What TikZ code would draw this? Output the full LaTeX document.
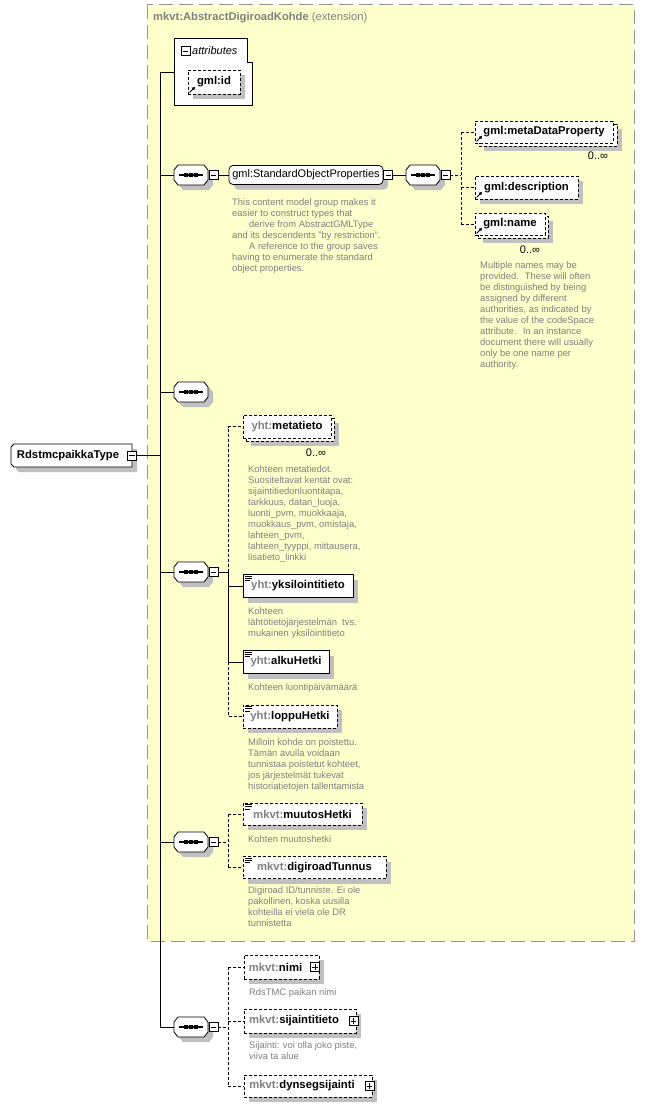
\documentclass[tikz,border=0pt]{standalone}
\usepackage{fontspec}
\setmainfont{Liberation Sans}
\usetikzlibrary{shadows,arrows.meta}
\definecolor{bgyel}{RGB}{255,255,204}
\definecolor{pfx}{RGB}{128,128,128}
\definecolor{desc}{RGB}{128,128,128}
\definecolor{shad}{RGB}{192,192,192}
\definecolor{frame}{RGB}{150,150,150}
\newcommand\pf[1]{\textcolor{pfx}{#1}}
\newcommand\seqshape[1]{%
  \fill[shad] ([shift={(5,5)}]#1.center) ++(-13,-10) -- ++(26,0) -- ++(4,5) -- ++(0,10) -- ++(-4,5) -- ++(-26,0) -- ++(-4,-5) -- ++(0,-10) -- cycle;
  \draw[line width=0.8pt,fill=white] (#1.center) ++(-13,-10) -- ++(26,0) -- ++(4,5) -- ++(0,10) -- ++(-4,5) -- ++(-26,0) -- ++(-4,-5) -- ++(0,-10) -- cycle;
  \draw[line width=1.1pt] ([xshift=-12pt]#1.center) -- ([xshift=12pt]#1.center);
  \fill ([xshift=-5pt]#1.center) +(-1.6,-1.6) rectangle +(1.6,1.6);
  \fill (#1.center) +(-1.6,-1.6) rectangle +(1.6,1.6);
  \fill ([xshift=5pt]#1.center) +(-1.6,-1.6) rectangle +(1.6,1.6);}
\newcommand\refic[1]{\draw[line width=1pt,-{Triangle[length=3pt,width=3.2pt]}] ([shift={(2,-2)}]#1.south west) -- ++(5.5,-5.5);}
\newcommand\conic[1]{\draw[line width=0.7pt] ([shift={(2,2)}]#1.north west) -- ++(7,0) ([shift={(2,4.2)}]#1.north west) -- ++(7,0) ([shift={(2,6.4)}]#1.north west) -- ++(5,0);}
\begin{document}
\begin{tikzpicture}[x=1pt,y=-1pt,
  shd/.style={drop shadow={shadow xshift=5pt,shadow yshift=-5pt,fill=shad,opacity=1}},
  box/.style={draw=black,fill=white,line width=0.8pt,inner sep=0pt,minimum height=23pt,font=\fontsize{11.3}{13}\selectfont\bfseries},
  elem/.style={box,shd},
  opt/.style={dash pattern=on 3pt off 2pt},
  conn/.style={line width=0.8pt},
  dconn/.style={line width=0.8pt,dash pattern=on 3pt off 2pt},
  note/.style={anchor=north west,inner sep=0pt,align=left,text=desc,font=\fontsize{9.4}{11}\selectfont},
  mult/.style={inner sep=0pt,font=\fontsize{11}{13}\selectfont},
  seqn/.style={minimum width=34pt,minimum height=20pt,inner sep=0pt},
  smallbox/.style={draw,fill=white,line width=0.6pt,minimum size=9pt,inner sep=0pt},
  minusbox/.style={smallbox,path picture={\draw[line width=0.6pt] ([xshift=1.8pt]path picture bounding box.west) -- ([xshift=-1.8pt]path picture bounding box.east);}},
  plusbox/.style={smallbox,path picture={\draw[line width=0.6pt] ([xshift=1.8pt]path picture bounding box.west) -- ([xshift=-1.8pt]path picture bounding box.east) ([yshift=-1.8pt]path picture bounding box.north) -- ([yshift=1.8pt]path picture bounding box.south);}},
]
\useasboundingbox (0,0) rectangle (645,1108);
\fill[white] (0,0) rectangle (645,1108);
% extension frame
\draw[draw=frame,fill=bgyel,line width=1pt,dash pattern=on 14pt off 6pt] (147,5) rectangle (634,941);
\node[anchor=west,inner sep=0pt,text=pfx,font=\fontsize{11.2}{13}\selectfont] (title) at (153,18) {\textbf{mkvt:AbstractDigiroadKohde} (extension)};

% spine
\coordinate (sp1) at (160,72);
\coordinate (sp2) at (160,1027);
\draw[conn] (sp1) -- (sp2);

% attributes
\node[minimum width=78pt,minimum height=67pt,inner sep=0pt,anchor=north west] (attr) at (174,38) {};
\draw[line width=0.8pt,fill=white] (174,38) -- (247,38) -- (247,62) -- (252,62) -- (252,105) -- (174,105) -- cycle;
\node[minusbox] (attrm) at (185.5,51) {};
\node[anchor=west,inner sep=0pt,font=\fontsize{11}{13}\selectfont\itshape] (attrl) at (192,50.5) {attributes};
\node[elem,opt,minimum width=52pt,minimum height=24pt] (gmlid) at (214,82) {gml:id};
\refic{gmlid}
\draw[conn] (sp1) -- (attr.west |- sp1);

% root type
\fill[shad] (19,449) -- (137,449) -- (137,472) -- (19,472) -- (16,469) -- (16,452) -- cycle;
\draw[line width=0.8pt,fill=white] (14,444) -- (132,444) -- (132,467) -- (14,467) -- (11,464) -- (11,447) -- cycle;
\node[inner sep=0pt,minimum width=116pt,minimum height=23pt,font=\fontsize{11.3}{13}\selectfont\bfseries] (rdst) at (68,455.5) {RdstmcpaikkaType};
\node[minusbox] (rdm) at (132,455.5) {};
\draw[conn] (rdm.east) -- (rdm.east -| sp1);

% seq 1 : StandardObjectProperties
\node[seqn] (s1) at (191,175) {};
\seqshape{s1}
\node[minusbox,anchor=west] (s1m) at ([xshift=0.5pt]s1.east) {};
\draw[conn] (s1.west -| sp1) -- (s1.west);
\node[elem,rounded corners=4pt,minimum width=154pt,minimum height=19pt,font=\fontsize{11}{13}\selectfont] (sop) at (306,175) {gml:StandardObjectProperties};
\node[minusbox,anchor=west] (sopm) at (sop.east) {};
\draw[conn] (s1m.east) -- (sop.west);
\node[note] (sopn) at (232,198) {This content model group makes it\\easier to construct types that\\\hspace*{17pt}derive from AbstractGMLType\\and its descendents "by restriction".\\\hspace*{17pt}A reference to the group saves\\having to enumerate the standard\\object properties.};

\node[seqn] (s2) at (423,175) {};
\seqshape{s2}
\node[minusbox,anchor=west] (s2m) at ([xshift=0.5pt]s2.east) {};
\draw[conn] (sopm.east) -- (s2.west);
\coordinate (b2) at (461,175);
\draw[dconn] (s2m.east) -- (b2);

\node[elem,opt,minimum width=138pt,minimum height=22pt] (mdpb) at (548,135) {};
\node[box,opt,minimum width=138pt,minimum height=22pt] (mdp) at (544,132) {gml:metaDataProperty};
\refic{mdp}
\node[mult] (mdpx) at (598,156) {0..∞};
\node[elem,opt,minimum width=103pt,minimum height=23pt] (gdesc) at (526.5,187.5) {gml:description};
\refic{gdesc}
\node[elem,opt,minimum width=70pt,minimum height=22pt] (nameb) at (513,227) {};
\node[box,opt,minimum width=70pt,minimum height=22pt] (gname) at (510,224) {gml:name};
\refic{gname}
\node[mult] (namex) at (530,250) {0..∞};
\node[note] (namen) at (480,261) {Multiple names may be\\provided.~ These will often\\be distinguished by being\\assigned by different\\authorities, as indicated by\\the value of the codeSpace\\attribute.~ In an instance\\document there will usually\\only be one name per\\authority.};
\draw[dconn] (b2 |- mdp.west) -- (b2 |- gname.west);
\draw[dconn] (b2 |- mdp.west) -- (mdp.west);
\draw[dconn] (b2 |- gdesc.west) -- (gdesc.west);
\draw[dconn] (b2 |- gname.west) -- (gname.west);

% seq 3 (empty)
\node[seqn] (s3) at (191,392) {};
\seqshape{s3}
\draw[conn] (s3.west -| sp1) -- (s3.west);

% seq 4 : yht
\node[seqn] (s4) at (191,572) {};
\seqshape{s4}
\node[minusbox,anchor=west] (s4m) at ([xshift=0.5pt]s4.east) {};
\draw[conn] (s4.west -| sp1) -- (s4.west);
\coordinate (b4) at (228,572);
\draw[conn] (s4m.east) -- (b4);

\node[elem,opt,minimum width=88pt,minimum height=23pt] (metab) at (290,429.5) {};
\node[box,opt,minimum width=88pt,minimum height=23pt] (meta) at (287,426.5) {\pf{yht:}metatieto};
\node[mult] (metax) at (316,453) {0..∞};
\node[note] (metan) at (248,465) {Kohteen metatiedot.\\Suositeltavat kentät ovat:\\sijaintitiedonluontitapa,\\tarkkuus, datan\_luoja,\\luonti\_pvm, muokkaaja,\\muokkaus\_pvm, omistaja,\\lahteen\_pvm,\\lahteen\_tyyppi, mittausera,\\lisatieto\_linkki};

\node[elem,minimum width=110pt,minimum height=23pt] (yks) at (298,586) {\pf{yht:}yksilointitieto};
\conic{yks}
\node[note] (yksn) at (248,607) {Kohteen\\lähtötietojärjestelmän~ tvs.\\mukainen yksilöintitieto};
\node[elem,minimum width=86pt,minimum height=23pt] (alku) at (286,662) {\pf{yht:}alkuHetki};
\conic{alku}
\node[note] (alkun) at (248,683) {Kohteen luontipäivämäärä};
\node[elem,opt,minimum width=94pt,minimum height=23pt] (lop) at (290,716.5) {\pf{yht:}loppuHetki};
\conic{lop}
\node[note] (lopn) at (248,738) {Milloin kohde on poistettu.\\Tämän avulla voidaan\\tunnistaa poistetut kohteet,\\jos järjestelmät tukevat\\historiatietojen tallentamista};
\draw[dconn] (b4) -- (b4 |- meta.west) -- (meta.west);
\draw[conn] (b4) -- (b4 |- alku.west);
\draw[conn] (b4 |- yks.west) -- (yks.west);
\draw[conn] (b4 |- alku.west) -- (alku.west);
\draw[dconn] (b4 |- alku.west) -- (b4 |- lop.west) -- (lop.west);

% seq 5 : mkvt
\node[seqn] (s5) at (191,842) {};
\seqshape{s5}
\node[minusbox,anchor=west] (s5m) at ([xshift=0.5pt]s5.east) {};
\draw[conn] (s5.west -| sp1) -- (s5.west);
\coordinate (b5) at (228,842);
\draw[dconn] (s5m.east) -- (b5);
\node[elem,opt,minimum width=119pt,minimum height=22pt] (muu) at (302.5,814) {\pf{mkvt:}muutosHetki};
\conic{muu}
\node[note] (muun) at (248,835) {Kohten muutoshetki};
\node[elem,opt,minimum width=143pt,minimum height=22pt] (digi) at (314.5,867.5) {\pf{mkvt:}digiroadTunnus};
\conic{digi}
\node[note] (digin) at (248,886) {Digiroad ID/tunniste. Ei ole\\pakollinen, koska uusilla\\kohteilla ei vielä ole DR\\tunnistetta};
\draw[dconn] (b5 |- muu.west) -- (b5 |- digi.west);
\draw[dconn] (b5 |- muu.west) -- (muu.west);
\draw[dconn] (b5 |- digi.west) -- (digi.west);

% seq 6 : outside
\node[seqn] (s6) at (191,1027) {};
\seqshape{s6}
\node[minusbox,anchor=west] (s6m) at ([xshift=0.5pt]s6.east) {};
\draw[conn] (s6.west -| sp1) -- (s6.west);
\coordinate (b6) at (228,1027);
\draw[dconn] (s6m.east) -- (b6);
\node[elem,opt,minimum width=75pt,minimum height=24pt] (nimi) at (281.5,967) {\pf{mkvt:}nimi\hspace*{12pt}};
\node[plusbox,anchor=east] (nimip) at ([xshift=0.5pt]nimi.east) {};
\node[note] (nimin) at (249,988) {RdsTMC paikan nimi};
\node[elem,opt,minimum width=112pt,minimum height=24pt] (sij) at (300,1021) {\pf{mkvt:}sijaintitieto\hspace*{12pt}};
\node[plusbox,anchor=east] (sijp) at ([xshift=2pt]sij.east) {};
\node[note] (sijn) at (249,1041) {Sijainti: voi olla joko piste,\\viiva ta alue};
\node[elem,opt,minimum width=128pt,minimum height=22pt] (dyn) at (308,1086) {\pf{mkvt:}dynsegsijainti\hspace*{12pt}};
\node[plusbox,anchor=east] (dynp) at ([xshift=2pt]dyn.east) {};
\draw[dconn] (b6 |- nimi.west) -- (b6 |- dyn.west);
\draw[dconn] (b6 |- nimi.west) -- (nimi.west);
\draw[dconn] (b6 |- sij.west) -- (sij.west);
\draw[dconn] (b6 |- dyn.west) -- (dyn.west);
\end{tikzpicture}
\end{document}
